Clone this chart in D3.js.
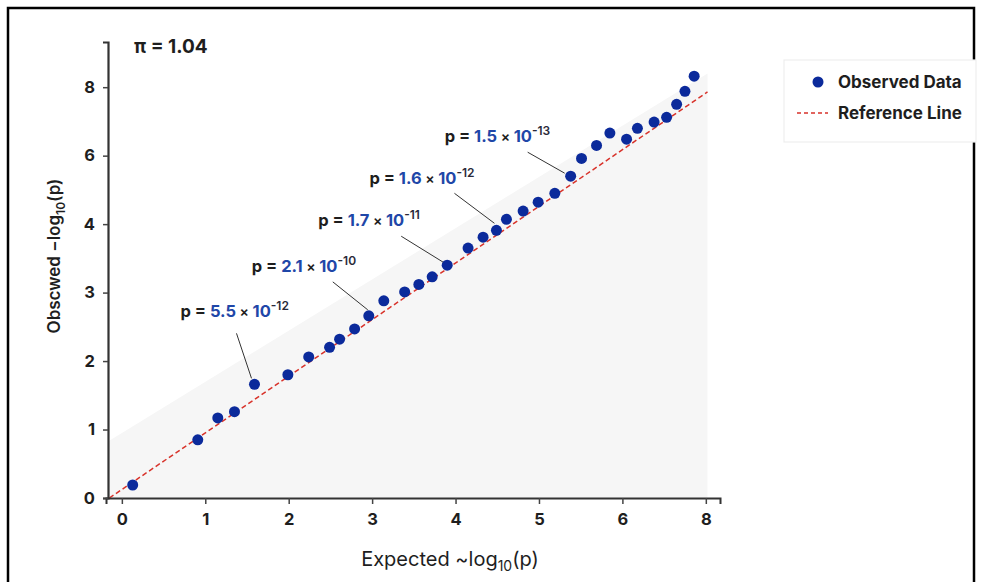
<!DOCTYPE html>
<html>
<head>
<meta charset="utf-8">
<script src="https://cdn.jsdelivr.net/npm/d3@7"></script>
<style>
  html, body { margin: 0; padding: 0; background: #fff; }
  svg { display: block; font-family: Inter, "Noto Sans", "DejaVu Sans", sans-serif; }
</style>
</head>
<body>
<svg id="chart" width="982" height="582"></svg>
<script>
// ---------- data ----------
const expected = [0.13, 0.91, 1.15, 1.35, 1.59, 1.99, 2.24, 2.49, 2.61, 2.79, 2.96, 3.14, 3.39, 3.56, 3.72, 3.90,
  4.15, 4.33, 4.49, 4.61, 4.81, 4.99, 5.19, 5.38, 5.51, 5.69, 5.85, 6.05, 6.18, 6.38, 6.53, 6.65, 6.75, 6.86];
const observed = [0.19, 0.85, 1.17, 1.26, 1.66, 1.80, 2.06, 2.20, 2.32, 2.47, 2.66, 2.88, 3.01, 3.12, 3.23, 3.40,
  3.65, 3.81, 3.91, 4.07, 4.19, 4.32, 4.45, 4.70, 4.96, 5.15, 5.33, 5.24, 5.40, 5.49, 5.56, 5.75, 5.94, 6.16];
const refLineX = [-0.15, 7.02];
const refLineY = [0, 5.93];
const bandUpperX = [-0.17, 7.02];
const bandUpperY = [0.82, 6.2];
const xTickValues = [0, 1, 2, 3, 4, 5, 6, 7];
const xTickLabels = ["0", "1", "2", "3", "4", "5", "6", "8"];
const yTickValues = [0, 1, 2, 3, 4, 5, 6];
const yTickLabels = ["0", "1", "2", "3", "4", "6", "8"];
const annotPoint = [4, 10, 15, 18, 23];
const annotMantissa = ["5.5", "2.1", "1.7", "1.6", "1.5"];
const annotExponent = ["-12", "-10", "-11", "-12", "-13"];
const lambdaText = "π = 1.04";
const legendLabels = ["Observed Data", "Reference Line"];

// ---------- layout ----------
const annotLayout = [
  { tx: -74, ty: -67, lx1: -18, ly1: -51, lx2: -3, ly2: -6 },
  { tx: -117, ty: -44, lx1: -36, ly1: -34, lx2: -1, ly2: -6 },
  { tx: -129, ty: -39, lx1: -46, ly1: -29, lx2: -4, ly2: -3 },
  { tx: -127, ty: -46, lx1: -42, ly1: -37, lx2: -2, ly2: -7 },
  { tx: -126, ty: -34, lx1: -43, ly1: -24, lx2: -6, ly2: -3 }
];
const dotColor = "#0b2a9b";
const blue = "#1f47a8";
const dark = "#1e1e1e";
const red = "#d8322a";

const svg = d3.select("#chart");

const x = d3.scaleLinear().domain([-0.19, 7.17]).range([106, 720]);
const y = d3.scaleLinear().domain([0, 6.66]).range([498, 42]);

// outer frame
svg.append("rect").attr("x", 8).attr("y", 8).attr("width", 966).attr("height", 600)
  .attr("fill", "none").attr("stroke", "#000").attr("stroke-width", 2.5);

// shaded region
svg.append("path")
  .attr("d", d3.line()([
    [x(bandUpperX[0]), y(0)],
    [x(bandUpperX[0]), y(bandUpperY[0])],
    [x(bandUpperX[1]), y(bandUpperY[1])],
    [x(bandUpperX[1]), y(0)]
  ]) + "Z")
  .attr("fill", "#f6f6f6");

// reference line
svg.append("line")
  .attr("x1", x(refLineX[0])).attr("y1", y(refLineY[0]))
  .attr("x2", x(refLineX[1])).attr("y2", y(refLineY[1]))
  .attr("stroke", red).attr("stroke-width", 1.5).attr("stroke-dasharray", "5,3");

// axes
const xAxis = d3.axisBottom(x).tickValues(xTickValues)
  .tickFormat((d, i) => xTickLabels[i]).tickSizeOuter(0).tickSize(6).tickPadding(9);
const gx = svg.append("g").attr("transform", "translate(0,498)").call(xAxis);
gx.select(".domain").attr("stroke", "#333").attr("stroke-width", 2);
gx.selectAll(".tick line").attr("stroke", "#444").attr("stroke-width", 1.5);
gx.selectAll(".tick text").attr("font-size", 16.5).attr("font-weight", 700).attr("fill", dark)
  .attr("font-family", "Inter, sans-serif");

const yAxis = d3.axisLeft(y).tickValues(yTickValues)
  .tickFormat((d, i) => yTickLabels[i]).tickSizeOuter(0).tickSize(5).tickPadding(8);
const gy = svg.append("g").attr("transform", "translate(108,0)").call(yAxis);
gy.select(".domain").attr("stroke", "#333").attr("stroke-width", 2.2);
gy.selectAll(".tick line").attr("stroke", "#444").attr("stroke-width", 1.5);
gy.selectAll(".tick text").attr("font-size", 16.5).attr("font-weight", 700).attr("fill", dark)
  .attr("font-family", "Inter, sans-serif");

// points
svg.append("g").selectAll("circle")
  .data(expected.map((e, i) => [e, observed[i]]))
  .join("circle")
  .attr("cx", d => x(d[0])).attr("cy", d => y(d[1]))
  .attr("r", 5.5).attr("fill", dotColor);

// annotations
annotPoint.forEach((pi, k) => {
  const px = x(expected[pi]), py = y(observed[pi]);
  const L = annotLayout[k];
  svg.append("line")
    .attr("x1", px + L.lx1).attr("y1", py + L.ly1)
    .attr("x2", px + L.lx2).attr("y2", py + L.ly2)
    .attr("stroke", "#333").attr("stroke-width", 1);
  const t = svg.append("text")
    .attr("x", px + L.tx).attr("y", py + L.ty)
    .attr("font-size", 16.5).attr("font-weight", 700).attr("fill", dark);
  t.append("tspan").text("p = ");
  t.append("tspan").attr("fill", blue).text(annotMantissa[k]);
  t.append("tspan").attr("font-size", 14).attr("font-weight", 600).text(" × ");
  t.append("tspan").attr("fill", blue).text("10");
  t.append("tspan").attr("font-size", 12).attr("font-weight", 600).attr("dy", -7).attr("fill", "#2a2a3a")
    .text(annotExponent[k]);
});

// lambda
svg.append("text").attr("x", 134).attr("y", 53)
  .attr("font-size", 19).attr("font-weight", 700).attr("fill", dark).text(lambdaText);

// axis titles
const xt = svg.append("text").attr("x", 450).attr("y", 566).attr("text-anchor", "middle")
  .attr("font-size", 20).attr("fill", dark);
xt.append("tspan").text("Expected ~log");
xt.append("tspan").attr("font-size", 14).attr("dy", 5).text("10");
xt.append("tspan").attr("dy", -5).text("(p)");

const yt = svg.append("text").attr("transform", "translate(60,256) rotate(-90)")
  .attr("text-anchor", "middle").attr("font-size", 17).attr("font-weight", 600).attr("fill", dark);
yt.append("tspan").text("Obscwed −log");
yt.append("tspan").attr("font-size", 12).attr("dy", 5).text("10");
yt.append("tspan").attr("dy", -5).text("(p)");

// legend
const lg = svg.append("g");
lg.append("rect").attr("x", 784).attr("y", 60).attr("width", 192).attr("height", 82)
  .attr("fill", "#fff").attr("stroke", "#eeeeee").attr("stroke-width", 1.2);
lg.append("circle").attr("cx", 818).attr("cy", 82).attr("r", 5.5).attr("fill", dotColor);
lg.append("line").attr("x1", 797).attr("x2", 828).attr("y1", 113).attr("y2", 113)
  .attr("stroke", red).attr("stroke-width", 1.3).attr("stroke-dasharray", "4,3");
lg.append("text").attr("x", 838).attr("y", 88).attr("font-size", 17).attr("font-weight", 700)
  .attr("fill", dark).text(legendLabels[0]);
lg.append("text").attr("x", 838).attr("y", 119).attr("font-size", 17).attr("font-weight", 700)
  .attr("fill", dark).text(legendLabels[1]);
</script>
</body>
</html>
